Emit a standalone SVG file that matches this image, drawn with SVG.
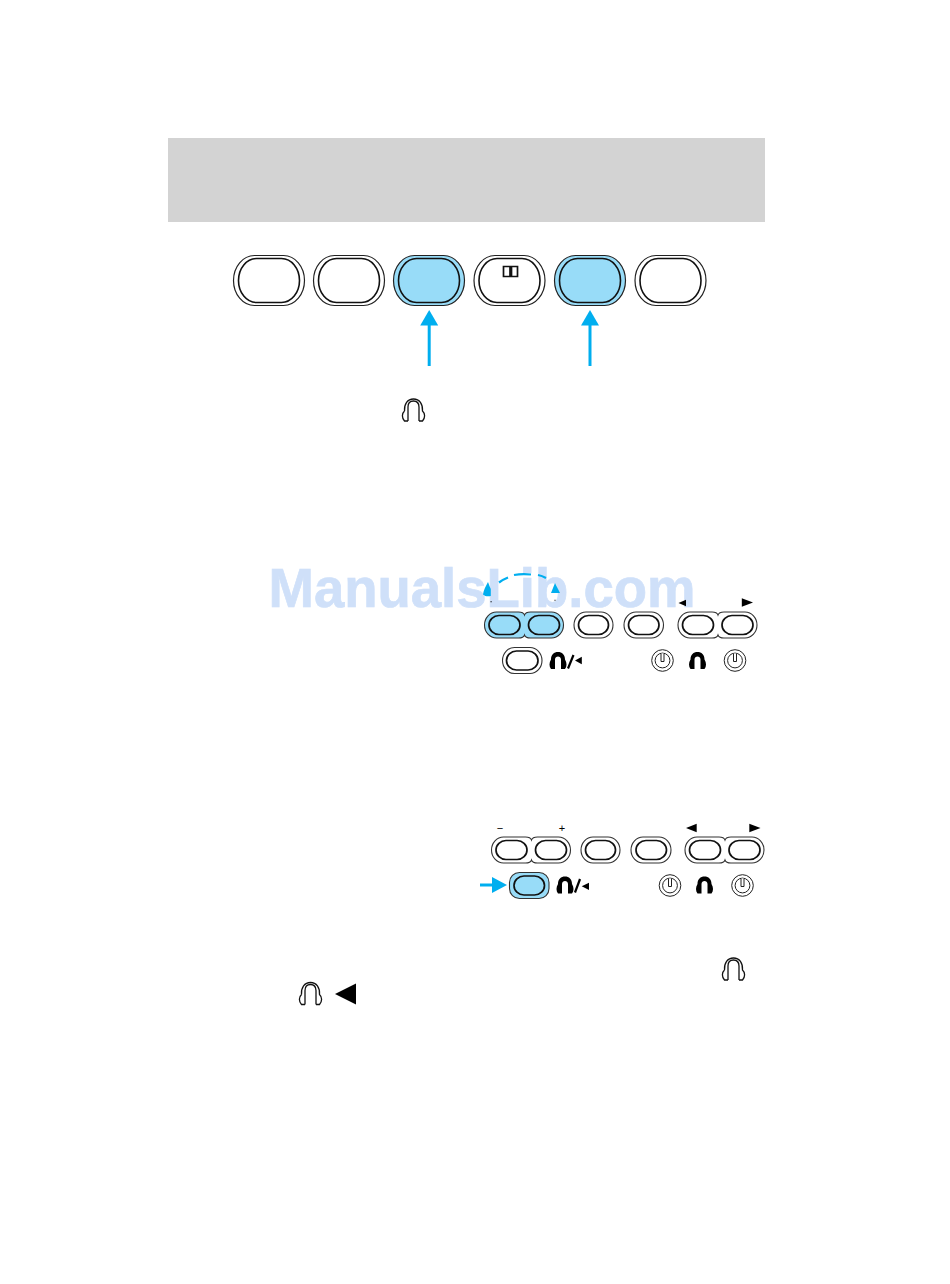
<svg xmlns="http://www.w3.org/2000/svg" xmlns:xlink="http://www.w3.org/1999/xlink" width="950" height="1284" viewBox="0 0 950 1284">
<style>
.o{fill:#fff;stroke:#222;stroke-width:1.2}
.i{fill:#fff;stroke:#111;stroke-width:1.6}
.bo{fill:#98dcf8;stroke:#222;stroke-width:1.2}
.bi{fill:#98dcf8;stroke:#111;stroke-width:1.6}
.so{fill:#fff;stroke:#333;stroke-width:1.1}
.si{fill:#fff;stroke:#111;stroke-width:1.7}
.sbo{fill:#98dcf8;stroke:#333;stroke-width:1.1}
.sbi{fill:#98dcf8;stroke:#111;stroke-width:1.7}
.c{stroke:#00aeef;fill:none}
.ar{fill:#00aeef}
.ph{fill:none;stroke:#111;stroke-width:1.3}
.phs{fill:#000}
.wm{font-family:"Liberation Sans",Arial,sans-serif;font-weight:700;font-size:56px;fill:#cfe0f9;stroke:#cfe0f9;stroke-width:.7}
.pm{font-family:"Liberation Sans",Arial,sans-serif;font-size:11px;fill:#000;text-anchor:middle}
</style>
<defs>
<g id="phones"><path class="ph" d="M-5.500 11V-3C-5.500 -7 -3 -9 0 -9C3 -9 5.500 -7 5.500 -3V11M-9 1C-9.500 -6 -6 -11 0 -11C6 -11 9.500 -6 9 1C11.800 3.500 11.800 8 9 11H5.500M-9 1C-11.800 3.500 -11.800 8 -9 11H-5.500"/></g>
<path id="phs" class="phs" d="M-3 8.500H-7C-9 6 -9 2 -7 -1C-7 -6 -4 -8.500 0 -8.500C4 -8.500 7 -6 7 -1C9 2 9 6 7 8.500H3V-1C3 -3 1.500 -4 0 -4C-1.500 -4 -3 -3 -3 -1Z"/>
<path id="pair" d="M12 0H34Q39 0 40 3Q41 0 46 0H67A12 13 0 0 1 67 26H46Q41 26 40 23Q39 26 34 26H12A12 13 0 0 1 12 0Z"/>
<g id="pow"><circle r="10.800" fill="#fff" stroke="#222" stroke-width="1"/><circle r="7.400" fill="#fff" stroke="#222" stroke-width="1"/><path d="M-1.500 -7V1H1.500V-7" fill="#fff" stroke="#222" stroke-width="1"/></g>
</defs>
<rect id="header-band" x="168" y="138" width="597" height="84" fill="#d3d3d3"/>
<g id="btn-1"><rect class="o" x="233.500" y="255.500" width="71" height="50" rx="21" ry="25"/><rect class="i" x="238.500" y="258.500" width="61" height="44" rx="18" ry="22"/></g>
<g id="btn-2"><rect class="o" x="313.500" y="255.500" width="71" height="50" rx="21" ry="25"/><rect class="i" x="318.500" y="258.500" width="61" height="44" rx="18" ry="22"/></g>
<g id="btn-3"><rect class="bo" x="393.500" y="255.500" width="71" height="50" rx="21" ry="25"/><rect class="bi" x="398.500" y="258.500" width="61" height="44" rx="18" ry="22"/></g>
<g id="btn-4"><rect class="o" x="474" y="255.500" width="71" height="50" rx="21" ry="25"/><rect class="i" x="479" y="258.500" width="61" height="44" rx="18" ry="22"/><path d="M503.500 266.500H510V276.500H503.500ZM511.500 266.500H517.500V276.500H511.500Z" fill="#fff" stroke="#111" stroke-width="1.700"/></g>
<g id="btn-5"><rect class="bo" x="554.500" y="255.500" width="71" height="50" rx="21" ry="25"/><rect class="bi" x="559.500" y="258.500" width="61" height="44" rx="18" ry="22"/></g>
<g id="btn-6"><rect class="o" x="635" y="255.500" width="71" height="50" rx="21" ry="25"/><rect class="i" x="640" y="258.500" width="61" height="44" rx="18" ry="22"/></g>
<g id="icon-phones-top"><use xlink:href="#phones" href="#phones" x="413.500" y="410"/></g>
<text id="watermark" class="wm" x="268.500" y="606.500" textLength="427" lengthAdjust="spacingAndGlyphs">ManualsLib.com</text>
<g id="panel-1">
<use class="sbo" xlink:href="#pair" href="#pair" x="484.500" y="612"/><rect class="sbi" x="489" y="615.500" width="31" height="19" rx="10" ry="9.500"/><rect class="sbi" x="528.500" y="615.500" width="31" height="19" rx="10" ry="9.500"/>
<rect class="so" x="574" y="612" width="39" height="26" rx="12" ry="13"/><rect class="si" x="578.500" y="615.500" width="30" height="19" rx="10" ry="9.500"/>
<rect class="so" x="624" y="612" width="39.500" height="26" rx="12" ry="13"/><rect class="si" x="628.500" y="615.500" width="30.500" height="19" rx="10" ry="9.500"/>
<use class="so" xlink:href="#pair" href="#pair" x="678" y="612"/><rect class="si" x="682.500" y="615.500" width="31" height="19" rx="10" ry="9.500"/><rect class="si" x="722" y="615.500" width="31" height="19" rx="10" ry="9.500"/>
<path d="M678.500 603L686 599.800V606.200Z" fill="#000"/><path d="M753 602.500L741.800 598.300V606.700Z" fill="#000"/>
<path d="M490.500 601.200h1.200v1h-1.200ZM554.500 599.800h1v1h-1Z" fill="#000"/>
<rect class="so" x="502.500" y="647.500" width="39.500" height="26" rx="12" ry="13"/><rect class="si" x="506.500" y="651" width="31.500" height="19" rx="10" ry="9.500"/>
<use xlink:href="#phs" href="#phs" x="558" y="660.500"/><path d="M568 668.500L573.500 655" stroke="#000" stroke-width="2.200" fill="none"/><path d="M575 660.500L581.800 656.700V664.300Z" fill="#000"/>
<use xlink:href="#pow" href="#pow" x="662.500" y="660.500"/><use xlink:href="#phs" href="#phs" x="697.500" y="660.500"/><use xlink:href="#pow" href="#pow" x="735" y="660.500"/>
</g>
<g id="panel-2">
<text class="pm" x="500" y="832">−</text><text class="pm" x="562" y="832">+</text>
<path d="M686 828L696.700 823.800V832.200Z" fill="#000"/><path d="M760.500 828L749.300 823.800V832.200Z" fill="#000"/>
<use class="so" xlink:href="#pair" href="#pair" x="491.500" y="837"/><rect class="si" x="496" y="840.500" width="31" height="19" rx="10" ry="9.500"/><rect class="si" x="535.500" y="840.500" width="31" height="19" rx="10" ry="9.500"/>
<rect class="so" x="581" y="837" width="39" height="26" rx="12" ry="13"/><rect class="si" x="585.500" y="840.500" width="30" height="19" rx="10" ry="9.500"/>
<rect class="so" x="631" y="837" width="40" height="26" rx="12" ry="13"/><rect class="si" x="636" y="840.500" width="30.500" height="19" rx="10" ry="9.500"/>
<use class="so" xlink:href="#pair" href="#pair" x="685" y="837"/><rect class="si" x="689.500" y="840.500" width="31" height="19" rx="10" ry="9.500"/><rect class="si" x="729" y="840.500" width="31" height="19" rx="10" ry="9.500"/>
<rect class="sbo" x="509.500" y="872.500" width="39.500" height="26" rx="10"/><rect class="sbi" x="514" y="876" width="30.500" height="19" rx="10" ry="9.500"/>
<use xlink:href="#phs" href="#phs" x="565" y="885"/><path d="M575 892.500L580 879" stroke="#000" stroke-width="2.200" fill="none"/><path d="M581.700 886.300L589 882.700V890Z" fill="#000"/>
<use xlink:href="#pow" href="#pow" x="670" y="885.500"/><use xlink:href="#phs" href="#phs" x="704.500" y="885"/><use xlink:href="#pow" href="#pow" x="742.500" y="885.500"/>
</g>
<g id="inline-icons">
<use xlink:href="#phones" href="#phones" x="733.500" y="969"/>
<use xlink:href="#phones" href="#phones" x="310.500" y="993.500"/>
<path d="M335 994L356 983.500V1004.500Z" fill="#000"/>
</g>
<g id="connectors">
<path class="c" stroke-width="3" d="M429.200 366V320"/>
<path class="ar" d="M429.200 310L438.200 325.500H420.200Z"/>
<path class="c" stroke-width="3" d="M590 366V320"/>
<path class="ar" d="M590 310L599 325.500H581Z"/>
<path class="c" stroke-width="2.200" d="M499 582.500Q503 579.500 508 577.500M514 575Q522 573.500 531 574.500M538 575Q542 575.800 546 578"/>
<path class="ar" d="M488 582C489 585 490 587 490.800 589V596C488 596.500 485 596.500 483 594.500C483.500 590 486 586 488 582Z"/>
<path class="ar" d="M555 583L560 593L551 593Z"/>
<path class="c" stroke-width="3" d="M480 885H500"/>
<path class="ar" d="M507 885L492 877V893Z"/>
</g>
</svg>
